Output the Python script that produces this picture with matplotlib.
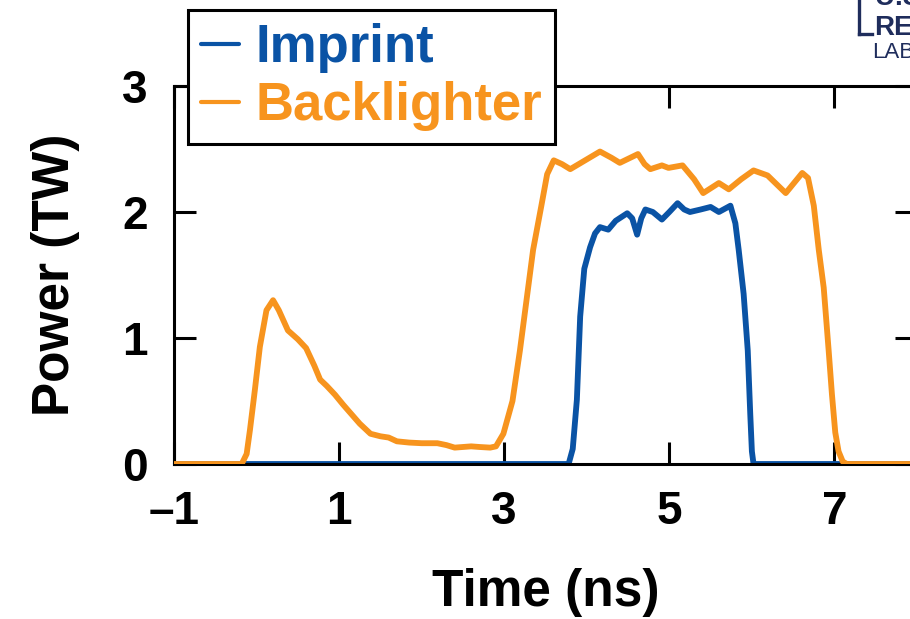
import matplotlib
matplotlib.use("Agg")
import matplotlib.pyplot as plt
from matplotlib.lines import Line2D

plt.rcParams['font.family'] = ['Liberation Sans', 'DejaVu Sans']

# ---- data ----
backlighter_t = [-1.0, -0.18, -0.12, -0.08, -0.02, 0.04, 0.12, 0.2, 0.27, 0.38, 0.5, 0.6, 0.7,
                 0.77, 0.85, 0.95, 1.05, 1.13, 1.25, 1.38, 1.5, 1.6, 1.7, 1.85, 2.0, 2.19,
                 2.3, 2.4, 2.5, 2.6, 2.7, 2.83, 2.9, 2.99, 3.1, 3.19, 3.27, 3.35, 3.45,
                 3.52, 3.6, 3.7, 3.8, 3.98, 4.16, 4.3, 4.4, 4.62, 4.7, 4.77, 4.91, 4.99,
                 5.16, 5.3, 5.41, 5.6, 5.72, 5.87, 6.02, 6.19, 6.3, 6.41, 6.61, 6.68,
                 6.75, 6.81, 6.87, 6.93, 6.97, 7.01, 7.05, 7.1, 7.15, 8.0]
backlighter_p = [0, 0, 0.08, 0.27, 0.59, 0.93, 1.22, 1.30, 1.22, 1.06, 0.99, 0.92, 0.78,
                 0.67, 0.62, 0.55, 0.47, 0.41, 0.32, 0.24, 0.22, 0.21, 0.18, 0.17, 0.165, 0.165,
                 0.15, 0.13, 0.135, 0.14, 0.135, 0.13, 0.14, 0.24, 0.5, 0.9, 1.3, 1.7, 2.05,
                 2.3, 2.41, 2.38, 2.34, 2.41, 2.48, 2.43, 2.39, 2.46, 2.38, 2.34, 2.37, 2.35,
                 2.37, 2.26, 2.15, 2.23, 2.18, 2.26, 2.33, 2.29, 2.22, 2.15, 2.31, 2.27,
                 2.05, 1.7, 1.4, 0.9, 0.55, 0.25, 0.1, 0.02, 0, 0]

imprint_t = [-1.0, 3.78, 3.83, 3.88, 3.92, 3.97, 4.04, 4.1, 4.16, 4.26, 4.35, 4.49, 4.55,
             4.61, 4.66, 4.71, 4.8, 4.91, 5.0, 5.1, 5.18, 5.25, 5.38, 5.5, 5.6, 5.74,
             5.8, 5.84, 5.9, 5.95, 5.98, 6.0, 6.02, 8.0]
imprint_p = [0, 0, 0.12, 0.51, 1.17, 1.55, 1.72, 1.83, 1.88, 1.86, 1.93, 1.99, 1.95,
             1.82, 1.95, 2.02, 2.0, 1.94, 2.0, 2.07, 2.02, 2.0, 2.02, 2.04, 2.0, 2.05,
             1.91, 1.7, 1.35, 0.9, 0.4, 0.1, 0, 0]

x_ticks = [-1, 1, 3, 5, 7]
x_ticklabels = ['\u20131', '1', '3', '5', '7']
y_ticks = [0, 1, 2, 3]

BLUE = '#0A53A5'
ORANGE = '#F7941E'
NAVY = '#1F2D5C'

fig = plt.figure(figsize=(9.1, 6.19), dpi=100)
W, H = 910, 619
ax = fig.add_axes([174 / W, 1 - 464 / H, (917 - 174) / W, (464 - 86) / H])

ax.plot(imprint_t, imprint_p, color=BLUE, lw=4.2, label='Imprint',
        solid_joinstyle='round', solid_capstyle='round', zorder=2)
ax.plot(backlighter_t, backlighter_p, color=ORANGE, lw=4.2, label='Backlighter',
        solid_joinstyle='round', solid_capstyle='round', zorder=3)

ax.set_xlim(-1, 8)
ax.set_ylim(0, 3)
ax.set_xticks(x_ticks)
ax.set_xticklabels(x_ticklabels)
ax.set_yticks(y_ticks)
ax.tick_params(direction='in', length=16, width=2.2, top=True, right=True,
               labelsize=33)
ax.tick_params(axis='x', pad=19)
ax.tick_params(axis='y', pad=19)
for lab in ax.get_xticklabels() + ax.get_yticklabels():
    lab.set_fontweight('bold')
for s in ax.spines.values():
    s.set_linewidth(2.2)

ax.set_xlabel('Time (ns)', fontsize=37, fontweight='bold', labelpad=24)
ax.set_ylabel('Power (TW)', fontsize=37, fontweight='bold', labelpad=30)

leg = ax.legend(loc='upper left', bbox_to_anchor=(188 / W, 1 - 10 / H),
                bbox_transform=fig.transFigure, frameon=True, fancybox=False,
                framealpha=1.0,
                prop={'size': 38, 'weight': 'bold'}, handlelength=0.72,
                handletextpad=0.3, labelspacing=0.15, borderpad=0.25,
                borderaxespad=0, labelcolor='linecolor')
leg.get_frame().set_edgecolor('black')
leg.get_frame().set_linewidth(2.2)
leg.set_zorder(10)
for h in leg.legend_handles:
    h.set_linewidth(3.0)

# partial logo, top right (cropped)
fig.text(875 / W, 1 - 5 / H, 'U.S. NAVAL', color=NAVY, fontsize=20, fontweight='bold',
         ha='left', va='baseline')
fig.text(874 / W, 1 - 35 / H, 'RESEARCH', color=NAVY, fontsize=20, fontweight='bold',
         ha='left', va='baseline')
fig.text(872 / W, 1 - 58 / H, 'LABORATORY', color=NAVY, fontsize=16,
         fontweight='normal', ha='left', va='baseline')
fig.add_artist(Line2D([859 / W, 859 / W], [1.0, 1 - 34 / H], color=NAVY, lw=2.4,
                      transform=fig.transFigure))
fig.add_artist(Line2D([859 / W, 872 / W], [1 - 34 / H, 1 - 34 / H], color=NAVY, lw=2.4,
                      transform=fig.transFigure))

fig.savefig('out.png', dpi=100)
